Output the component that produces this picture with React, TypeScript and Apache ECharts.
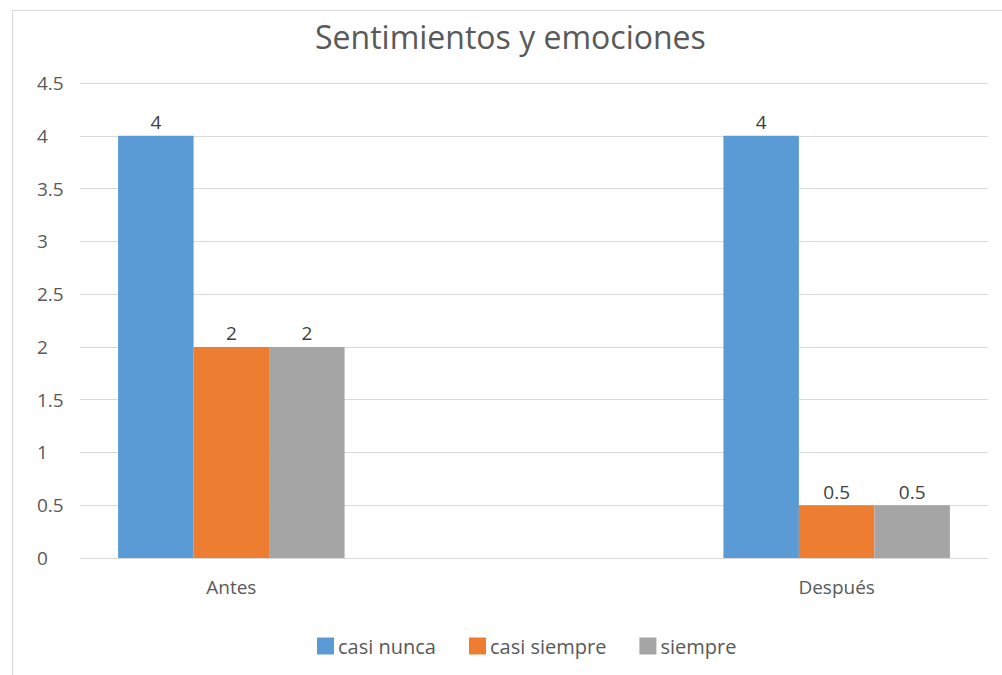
import React, { useEffect, useRef } from "react";
import * as echarts from "echarts";

const titleText = "Sentimientos y emociones";
const categories = ["Antes", "Después"];
const seriesNames = ["casi nunca", "casi siempre", "siempre"];
const casiNunca = [4, 4];
const casiSiempre = [2, 0.5];
const siempre = [2, 0.5];
const colors = ["#5B9BD5", "#ED7D31", "#A5A5A5"];
const yMin = 0;
const yMax = 4.5;
const yStep = 0.5;

const FONT = "'Open Sans', 'Noto Sans', sans-serif";

export default function App() {
  const ref = useRef<HTMLDivElement>(null);
  useEffect(() => {
    if (!ref.current) return;
    const chart = echarts.init(ref.current, undefined, { renderer: "svg" });
    const values = [casiNunca, casiSiempre, siempre];
    chart.setOption({
      animation: false,
      backgroundColor: "#ffffff",
      textStyle: { fontFamily: FONT },
      title: {
        text: titleText,
        left: 310,
        top: 15,
        textStyle: { fontFamily: FONT, fontSize: 32, fontWeight: "normal", color: "#595959" },
      },
      graphic: [
        {
          type: "rect",
          shape: { x: 12.5, y: 10.5, width: 1100, height: 700 },
          style: { fill: "none", stroke: "#d9d9d9", lineWidth: 1 },
          silent: true,
        },
      ],
      legend: {
        data: seriesNames,
        left: 312,
        top: 631,
        icon: "rect",
        itemWidth: 17,
        itemHeight: 17,
        itemGap: 33,
        textStyle: { fontFamily: FONT, fontSize: 20, color: "#595959", padding: [0, 0, 0, -1] },
      },
      grid: { left: 80, right: 14, top: 83, bottom: 117 },
      xAxis: {
        type: "value",
        min: -0.25,
        max: 1.25,
        splitLine: { show: false },
        axisLine: { show: false },
        axisTick: { show: false },
        axisLabel: {
          customValues: categories.map((_, i) => i),
          formatter: (v: number) => categories[Math.round(v)] ?? "",
          color: "#595959",
          fontSize: 19,
          fontFamily: FONT,
          margin: 19,
        },
      },
      yAxis: {
        type: "value",
        min: yMin,
        max: yMax,
        interval: yStep,
        axisLine: { show: false },
        axisTick: { show: false },
        splitLine: { lineStyle: { color: "#d9d9d9", width: 1 } },
        axisLabel: {
          color: "#595959",
          fontSize: 19,
          fontFamily: FONT,
          align: "left",
          margin: 43,
        },
      },
      series: seriesNames.map((name, s) => ({
        name,
        type: "bar",
        data: categories.map((_, i) => [i, values[s][i]]),
        barWidth: 75.5,
        barGap: "0%",
        itemStyle: { color: colors[s] },
        label: {
          show: true,
          position: "top",
          distance: 4,
          color: "#404040",
          fontSize: 19,
          fontFamily: FONT,
          formatter: (p: any) => String(p.value[1]),
        },
      })),
    });
    return () => chart.dispose();
  }, []);
  return (
    <div
      ref={ref}
      style={{ position: "fixed", left: 0, top: 0, width: 1002, height: 675 }}
    />
  );
}
